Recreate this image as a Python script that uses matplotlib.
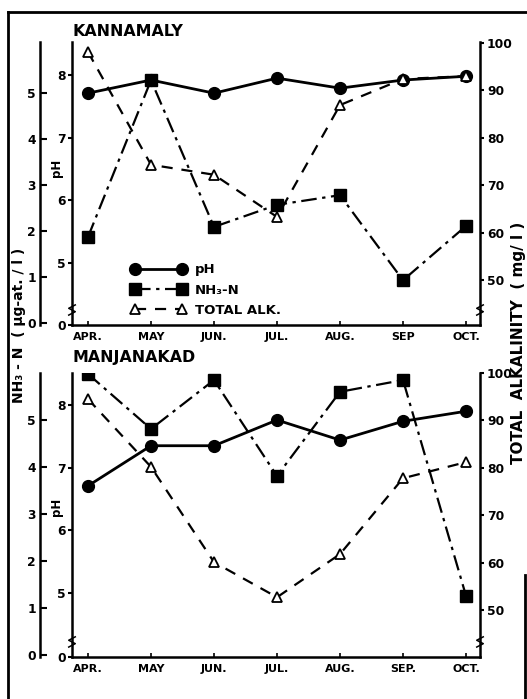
import matplotlib
matplotlib.use('Agg')
import matplotlib.pyplot as plt
from matplotlib.lines import Line2D

# ---------------- data ----------------
months_top = ['APR.', 'MAY', 'JUN.', 'JUL.', 'AUG.', 'SEP', 'OCT.']
months_bot = ['APR.', 'MAY', 'JUN.', 'JUL.', 'AUG.', 'SEP.', 'OCT.']

# KANNAMALY
k_ph = [7.71, 7.92, 7.71, 7.95, 7.79, 7.92, 7.98]
k_nh3 = [1.87, 5.28, 2.09, 2.57, 2.78, 0.93, 2.11]
k_alk = [98.1, 74.3, 72.2, 63.3, 86.9, 92.4, 93.0]

# MANJANAKAD
m_ph = [6.71, 7.35, 7.35, 7.76, 7.44, 7.74, 7.90]
m_nh3 = [5.98, 4.81, 5.85, 3.81, 5.60, 5.85, 1.26]
m_alk = [94.5, 80.2, 60.1, 52.7, 61.8, 77.8, 81.2]

ph_ticks = [5, 6, 7, 8]
ph_ticklabels = ['0', '5', '6', '7', '8']
nh3_ticks = [0, 1, 2, 3, 4, 5]
alk_ticks = [50, 60, 70, 80, 90, 100]

legend_labels = ['pH', 'NH\u2083-N', 'TOTAL ALK.']

# ---------------- style ----------------
plt.rcParams['font.family'] = ['DejaVu Sans']
plt.rcParams['font.weight'] = 'bold'

W, H = 527, 699
fig = plt.figure(figsize=(W / 100, H / 100), dpi=100)
fig.patch.set_facecolor('white')


def px_rect(x0, y0, x1, y1):
    return [x0 / W, 1 - y1 / H, (x1 - x0) / W, (y1 - y0) / H]


def zig(ax, xf, yf):
    dx, dy = 0.008, 0.012
    ax.plot([xf - dx, xf + dx, xf - dx, xf + dx],
            [yf - 1.5 * dy, yf - 0.5 * dy, yf + 0.5 * dy, yf + 1.5 * dy],
            transform=ax.transAxes, clip_on=False, color='black', lw=1.1)


def panel(rect, ph, nh3, alk, months, ph_lim, nh3_lim, alk_lim):
    x = list(range(len(months)))
    ax = fig.add_axes(rect)
    ax.set_xlim(-0.254, 6.222)
    ax.set_ylim(*ph_lim)
    for s in ('top', 'right'):
        ax.spines[s].set_visible(False)
    for s in ('left', 'bottom'):
        ax.spines[s].set_linewidth(1.8)
    ax.set_yticks([ph_lim[0]] + ph_ticks, ph_ticklabels)
    ax.tick_params(axis='y', direction='out', length=3, width=1.5, pad=1.5,
                   labelsize=8.8)
    ax.set_xticks(x, months)
    ax.tick_params(axis='x', direction='in', length=3, width=1.2, pad=5,
                   labelsize=8)

    axn = ax.twinx()
    axn.set_ylim(*nh3_lim)
    for s in ('top', 'right', 'bottom'):
        axn.spines[s].set_visible(False)
    axn.spines['left'].set_visible(True)
    axn.spines['left'].set_position(('outward', 23))
    axn.spines['left'].set_linewidth(1.8)
    axn.yaxis.set_ticks_position('left')
    axn.yaxis.set_label_position('left')
    axn.set_yticks(nh3_ticks, [str(t) for t in nh3_ticks])
    axn.tick_params(axis='y', direction='in', length=5, width=1.5, pad=3,
                    labelsize=8.8)

    axa = ax.twinx()
    axa.set_ylim(*alk_lim)
    for s in ('top', 'left', 'bottom'):
        axa.spines[s].set_visible(False)
    axa.spines['right'].set_linewidth(1.8)
    axa.set_yticks(alk_ticks, [str(t) for t in alk_ticks])
    axa.tick_params(axis='y', direction='out', length=3, width=1.5, pad=2,
                    labelsize=8.8)

    l1, = ax.plot(x, ph, color='black', lw=2.0, ls='-', marker='o',
                  markersize=8.5, markerfacecolor='black', zorder=3)
    l2, = axn.plot(x, nh3, color='black', lw=1.6, ls=(0, (7, 2.5, 1.5, 2.5)),
                   marker='s', markersize=8.5, markerfacecolor='black', zorder=3)
    l3, = axa.plot(x, alk, color='black', lw=1.6, ls=(0, (5, 4)), marker='^',
                   markersize=7, markerfacecolor='white',
                   markeredgecolor='black', markeredgewidth=1.3, zorder=4)

    zig(ax, 0.0, 0.053)
    zig(axa, 1.0, 0.053)
    return ax, (l1, l2, l3)


ax_top, handles = panel(px_rect(72, 42, 480, 325), k_ph, k_nh3, k_alk,
                        months_top, (4.01, 8.527), (-0.043, 6.11), (40.5, 100.2))
ax_bot, _ = panel(px_rect(72, 373, 480, 657), m_ph, m_nh3, m_alk,
                  months_bot, (3.98, 8.51), (-0.04, 6.0), (40.1, 100.0))

# titles
fig.text(72 / W, 1 - 31 / H, 'KANNAMALY', fontsize=11.4, fontweight='bold',
         ha='left', va='center')
fig.text(72 / W, 1 - 358 / H, 'MANJANAKAD', fontsize=11.4, fontweight='bold',
         ha='left', va='center')

# pH axis labels
for yc in (168, 507):
    fig.text(56 / W, 1 - yc / H, 'pH', rotation=90, fontsize=8.5,
             ha='center', va='center')

# shared axis labels
fig.text(19 / W, 1 - 325 / H, 'NH\u2083 - N  ( \u00b5g-at. / l )', rotation=90,
         fontsize=10, ha='center', va='center')
fig.text(518 / W, 1 - 343 / H, 'TOTAL  ALKALINITY  ( mg/ l )', rotation=90,
         fontsize=11, ha='center', va='center')

# legend
fs = 9.5
leg = ax_top.legend(handles, legend_labels, loc='center left',
                    bbox_to_anchor=(131 / W, 1 - 290 / H),
                    bbox_transform=fig.transFigure, frameon=False,
                    numpoints=2, handlelength=4.17, handletextpad=0.68,
                    labelspacing=0.55, borderpad=0, borderaxespad=0,
                    prop={'size': fs, 'weight': 'bold'})

# outer frame
fig.add_artist(Line2D([8 / W, 8 / W], [0, 1 - 12 / H], color='black', lw=2,
                      transform=fig.transFigure))
fig.add_artist(Line2D([8 / W, 1], [1 - 12 / H, 1 - 12 / H], color='black', lw=2,
                      transform=fig.transFigure))
fig.add_artist(Line2D([525 / W, 525 / W], [0, 1 - 575 / H], color='black',
                      lw=2, transform=fig.transFigure))

fig.savefig('out.png', dpi=100)
